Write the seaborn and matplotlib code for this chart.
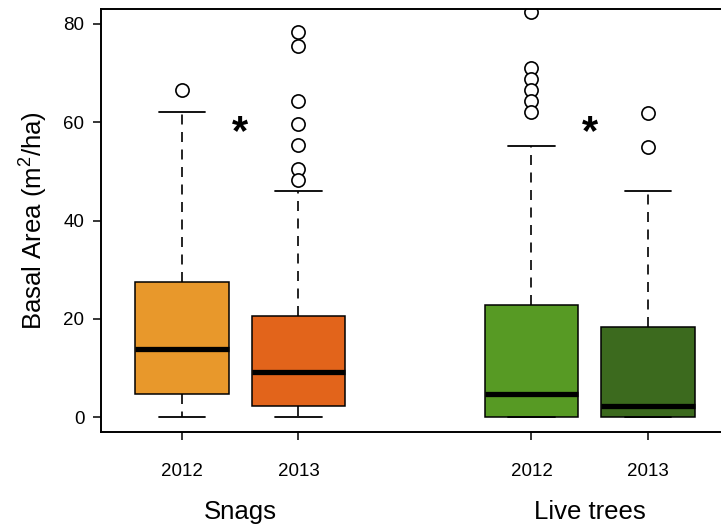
import matplotlib
matplotlib.use("Agg")
import matplotlib.pyplot as plt
import seaborn as sns

# Basal area summaries per group (m^2/ha)
groups = ["Snags 2012", "Snags 2013", "Live trees 2012", "Live trees 2013"]
years = ["2012", "2013", "2012", "2013"]
categories = ["Snags", "Live trees"]
positions = [1, 2, 4, 5]
q1 = [4.6, 2.3, 0.0, 0.0]
medians = [13.8, 9.2, 4.6, 2.3]
q3 = [27.4, 20.6, 22.9, 18.3]
whisker_low = [0.0, 0.0, 0.0, 0.0]
whisker_high = [62.0, 46.0, 55.2, 46.0]
outliers = [
    [66.6],
    [78.3, 75.6, 64.4, 59.6, 55.3, 50.4, 48.3],
    [82.4, 71.1, 68.8, 66.6, 64.4, 62.0],
    [61.8, 55.0],
]
colors = ["#E8982B", "#E2641B", "#579A24", "#3C6A1E"]

sns.set_theme(style="ticks")
plt.rcParams["font.family"] = ["Liberation Sans", "DejaVu Sans"]
plt.rcParams["mathtext.fontset"] = "custom"
plt.rcParams["mathtext.rm"] = "Liberation Sans"
plt.rcParams["text.color"] = "black"

fig = plt.figure(figsize=(7.21, 5.31), dpi=100)
ax = fig.add_axes([101 / 721, 99 / 531, 620 / 721, 423 / 531])

stats = []
for i, name in enumerate(groups):
    stats.append(dict(label=name, q1=q1[i], med=medians[i], q3=q3[i],
                      whislo=whisker_low[i], whishi=whisker_high[i],
                      fliers=outliers[i]))

bp = ax.bxp(
    stats, positions=positions, widths=0.8, patch_artist=True,
    boxprops=dict(edgecolor="black", linewidth=1.1),
    medianprops=dict(color="black", linewidth=3.8, solid_capstyle="butt"),
    whiskerprops=dict(color="black", linewidth=1.2, linestyle=(0, (6, 4.5))),
    capprops=dict(color="black", linewidth=1.3),
    capwidths=0.4,
    flierprops=dict(marker="o", markersize=9.5, markerfacecolor="white",
                    markeredgecolor="black", markeredgewidth=1.2,
                    linestyle="none"),
)
for patch, c in zip(bp["boxes"], colors):
    patch.set_facecolor(c)
for fl in bp["fliers"]:
    fl.set_clip_on(True)

ax.set_xlim(0.305, 5.627)
ax.set_ylim(-3.05, 83.05)
ax.set_yticks([0, 20, 40, 60, 80])
ax.set_xticks(positions)
ax.set_xticklabels(years)
ax.tick_params(axis="y", direction="out", length=6, width=1.1,
               labelsize=13.5, pad=6, colors="black")
ax.tick_params(axis="x", direction="out", length=6, width=1.1,
               labelsize=13.5, pad=16, colors="black")
for s in ["left", "bottom", "top"]:
    ax.spines[s].set_linewidth(1.4)
    ax.spines[s].set_color("black")
ax.spines["right"].set_visible(False)

ax.set_ylabel("Basal Area (m$^2$/ha)", fontsize=18.5, labelpad=10,
              color="black")

# significance markers between years
for x in [1.5, 4.5]:
    ax.text(x, 57.8, "*", fontsize=30, fontweight="bold", ha="center",
            va="center", color="black")

# group labels below the year ticks
for x, name in zip([1.5, 4.5], categories):
    ax.text(x, -0.19, name, transform=ax.get_xaxis_transform(),
            ha="center", va="center", fontsize=18.5, color="black")

fig.savefig("out.png", dpi=100)
